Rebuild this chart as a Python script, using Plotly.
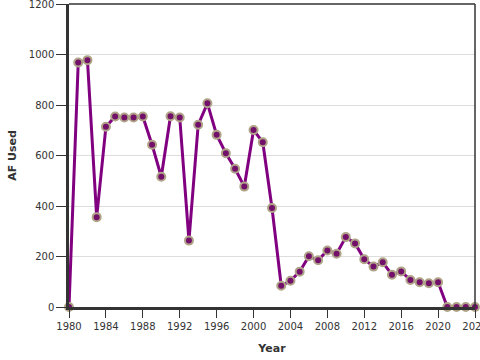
import plotly.graph_objects as go

years = list(range(1980, 2025))
af_used = [0, 969, 978, 356, 714, 755, 751, 751, 755, 643,
           516, 756, 751, 263, 722, 807, 682, 609, 548, 477,
           701, 653, 392, 84, 104, 140, 201, 185, 224, 211,
           277, 252, 189, 160, 177, 128, 141, 107, 98, 94,
           98, 0, 0, 0, 0]
x_ticks = list(range(1980, 2025, 4))
y_ticks = list(range(0, 1201, 200))

fig = go.Figure()
fig.add_trace(go.Scatter(
    x=years, y=af_used, mode="lines+markers",
    line=dict(color="#800080", width=3),
    marker=dict(size=8, color="#72106a", line=dict(color="#b0a488", width=2)),
    cliponaxis=False,
))

font = dict(family="DejaVu Sans", size=10, color="#333")
fig.update_layout(
    width=480, height=360,
    margin=dict(l=69, r=5, t=4, b=53),
    paper_bgcolor="white", plot_bgcolor="white",
    showlegend=False,
    font=font,
    xaxis=dict(
        range=[1980, 2024], tickvals=x_ticks, ticktext=[str(t) for t in x_ticks],
        showgrid=False, zeroline=False, automargin=False,
        showline=True, linecolor="#333", linewidth=2.5,
        ticks="outside", ticklen=8, tickcolor="#333", tickwidth=1,
        tickfont=font, ticklabeloverflow="allow",
        title=dict(text="<b>Year</b>", font=dict(family="DejaVu Sans", size=11, color="#333"), standoff=14),
    ),
    yaxis=dict(
        range=[0, 1200.5], tickvals=y_ticks, ticktext=[str(t) for t in y_ticks],
        showgrid=True, gridcolor="#dddddd", gridwidth=1, zeroline=False, automargin=False,
        showline=True, linecolor="#333", linewidth=2.5,
        ticks="outside", ticklen=10, tickcolor="#333", tickwidth=1,
        tickfont=font, ticklabeloverflow="allow",
        title=dict(text="<b>AF Used</b>", font=dict(family="DejaVu Sans", size=11, color="#333"), standoff=10),
    ),
    shapes=[
        dict(type="line", xref="paper", yref="paper", x0=0, x1=1, y0=1, y1=1,
             line=dict(color="#333", width=1.5), layer="above"),
        dict(type="line", xref="paper", yref="paper", x0=1, x1=1, y0=0, y1=1,
             line=dict(color="#333", width=1.5), layer="above"),
    ],
)

fig.write_html(
    "out.html",
    config={"displayModeBar": False},
    post_script="document.body.style.margin='0';document.body.style.overflow='hidden';",
)
